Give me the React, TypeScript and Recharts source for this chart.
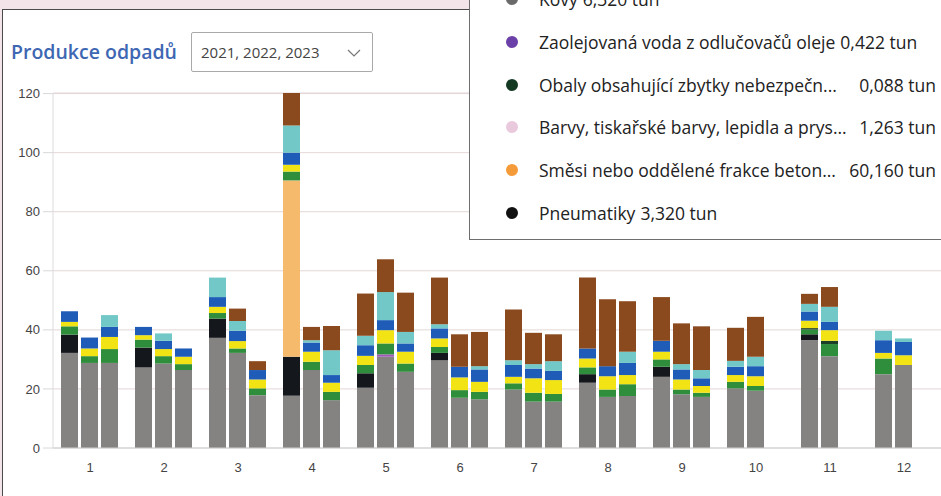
import { BarChart, Bar, XAxis, YAxis, CartesianGrid } from 'recharts';

const months = ['1', '2', '3', '4', '5', '6', '7', '8', '9', '10', '11', '12'];
const years = ['2021', '2022', '2023'];
const yTicks = [0, 20, 40, 60, 80, 100, 120];

// each entry = [2021, 2022, 2023] for one month
const ostatni = [[32.2, 28.8, 28.8], [27.3, 28.6, 26.4], [37.3, 32.2, 17.9], [17.7, 26.4, 16.2], [20.4, 30.9, 25.8], [29.7, 17.0, 16.5], [19.8, 15.7, 15.7], [22.1, 17.3, 17.6], [24.1, 18.2, 17.3], [20.2, 19.4, null], [36.5, 31.1, null], [25.0, 28.1, null]];
const zaolejovana = [[0, 0, 0], [0, 0, 0], [0, 0, 0], [0, 0, 0], [0, 0.8, 0], [0, 0, 0], [0, 0, 0], [0, 0, 0], [0, 0, 0], [0, 0, null], [0, 0, null], [0, 0, null]];
const pneumatiky = [[6.2, 0, 0], [6.7, 0, 0], [6.5, 0, 0], [13.2, 0, 0], [4.9, 0, 0], [2.5, 0, 0], [0, 0, 0], [2.9, 0, 0], [3.4, 0, 0], [0, 0, null], [2.0, 0, null], [0, 0, null]];
const smesi = [[0, 0, 0], [0, 0, 0], [0, 0, 0], [59.7, 0, 0], [0, 0, 0], [0, 0, 0], [0, 0, 0], [0, 0, 0], [0, 0, 0], [0, 0, null], [0, 0, null], [0, 0, null]];
const plasty = [[2.8, 2.3, 4.7], [2.7, 2.5, 2.0], [1.9, 1.5, 2.3], [3.0, 2.8, 2.8], [2.8, 3.7, 2.8], [2.0, 2.6, 2.5], [2.1, 3.0, 2.6], [2.3, 2.5, 4.0], [2.5, 1.6, 1.4], [2.2, 1.6, null], [1.6, 4.1, null], [5.3, 0, null]];
const obaly = [[0, 0, 0], [0, 0, 0], [0, 0, 0], [0, 0, 0], [0, 0, 0], [0, 0, 0], [0, 0, 0], [0, 0, 0], [0, 0, 0], [0, 0, null], [0.5, 1.1, null], [0, 0, null]];
const papir = [[1.5, 2.6, 4.1], [1.5, 2.4, 2.5], [2.1, 2.5, 3.0], [2.3, 3.4, 3.1], [3.1, 4.5, 4.0], [2.9, 4.3, 3.4], [2.2, 4.9, 4.7], [3.0, 4.5, 3.1], [2.6, 3.4, 2.3], [2.3, 3.3, null], [2.5, 3.6, null], [1.9, 3.3, null]];
const sklo = [[3.6, 3.7, 3.4], [2.8, 2.8, 2.8], [3.3, 3.5, 3.2], [4.1, 3.1, 2.6], [3.6, 3.4, 2.8], [3.4, 3.6, 4.2], [4.0, 3.3, 3.1], [3.4, 3.4, 4.1], [3.7, 3.4, 2.6], [2.8, 3.4, null], [3.1, 2.8, null], [4.3, 4.5, null]];
const bio = [[0, 0, 4.0], [0, 2.5, 0], [6.6, 3.3, 0], [9.2, 0.8, 8.4], [3.2, 9.5, 3.9], [1.4, 0, 1.1], [1.6, 1.5, 3.3], [0, 0, 3.8], [0, 1.8, 2.8], [2.0, 3.2, null], [2.6, 5.1, null], [3.2, 1.2, null]];
const drevo = [[0, 0, 0], [0, 0, 0], [0, 4.2, 3.0], [11.0, 4.5, 8.2], [14.3, 11.1, 13.3], [15.8, 11.0, 11.6], [17.2, 10.6, 9.1], [24.0, 22.7, 17.1], [14.8, 13.8, 14.8], [11.2, 13.5, null], [3.4, 6.7, null], [0, 0, null]];

const series = [
  { key: 'ostatni', values: ostatni, color: '#858282' },
  { key: 'zaolejovana', values: zaolejovana, color: '#A05AB8' },
  { key: 'pneumatiky', values: pneumatiky, color: '#14181c' },
  { key: 'smesi', values: smesi, color: '#F6BA6C' },
  { key: 'plasty', values: plasty, color: '#2F8E3C' },
  { key: 'obaly', values: obaly, color: '#1B3F27' },
  { key: 'papir', values: papir, color: '#F2E314' },
  { key: 'sklo', values: sklo, color: '#1F5CB8' },
  { key: 'bio', values: bio, color: '#72C7C7' },
  { key: 'drevo', values: drevo, color: '#8A4A1E' },
];

// tooltip-like legend overlay
const legendLabels = ['Kovy', 'Zaolejovaná voda z odlučovačů oleje', 'Obaly obsahující zbytky nebezpečn...', 'Barvy, tiskařské barvy, lepidla a prys...', 'Směsi nebo oddělené frakce beton...', 'Pneumatiky'];
const legendValues = ['6,320 tun', '0,422 tun', '0,088 tun', '1,263 tun', '60,160 tun', '3,320 tun'];
const legendColors = ['#6a6a6a', '#6B40A8', '#143A24', '#E9CADC', '#F49A38', '#111111'];
const legendTruncated = [false, false, true, true, true, false];

const data = months.map((m, i) => {
  const row: Record<string, string | number | null> = { month: m };
  series.forEach((s) => {
    years.forEach((y, j) => {
      row[`${s.key}_${y}`] = s.values[i][j];
    });
  });
  return row;
});

const font = '"Open Sans", "Noto Sans", sans-serif';
const tickFont = 'Liberation Sans, Arial, sans-serif';

export default function App() {
  return (
    <div style={{ position: 'fixed', left: 0, top: 0, width: 941, height: 496, overflow: 'hidden', background: '#F2E4E8', fontFamily: font }}>
      <div style={{ position: 'absolute', left: 2, top: 9, width: 960, height: 500, background: '#fff', borderLeft: '1.5px solid #4a4a4a', borderTop: '1.5px solid #4a4a4a' }} />
      <div style={{ position: 'absolute', left: 0, top: 0 }}>
        <BarChart width={941} height={496} data={data} margin={{ top: 93, right: 0, left: 0, bottom: 0 }} barCategoryGap={8} barGap={3}>
          <CartesianGrid vertical={false} stroke="#E4D6D6" />
          <XAxis dataKey="month" height={48} axisLine={{ stroke: '#cfcfcf' }} tickLine={false} tickMargin={9} tick={{ fill: '#444', fontSize: 13, fontFamily: tickFont }} />
          <YAxis width={53} domain={[0, 120]} ticks={yTicks} tickSize={10} tickMargin={3} axisLine={{ stroke: '#dcdcdc' }} tickLine={{ stroke: '#d8d8d8' }} tick={{ fill: '#444', fontSize: 13, fontFamily: tickFont }} />
          {series.flatMap((s) =>
            years.map((y) => (
              <Bar key={`${s.key}_${y}`} dataKey={`${s.key}_${y}`} stackId={y} fill={s.color} isAnimationActive={false} />
            ))
          )}
        </BarChart>
      </div>
      <div style={{ position: 'absolute', left: 11, top: 38, fontSize: 19.5, fontWeight: 600, color: '#3E67B3' }}>Produkce odpadů</div>
      <div style={{ position: 'absolute', left: 191, top: 32, width: 182, height: 40, boxSizing: 'border-box', border: '1px solid #a9a9a9', borderRadius: 2, background: '#fff', fontSize: 15, color: '#444', display: 'flex', alignItems: 'center', paddingLeft: 9 }}>
        <span>2021, 2022, 2023</span>
        <svg width="14" height="10" style={{ position: 'absolute', right: 11, top: 15 }}>
          <polyline points="1,2 7,8 13,2" fill="none" stroke="#777" strokeWidth="1.2" />
        </svg>
      </div>
      <div style={{ position: 'absolute', left: 469, top: -22, width: 500, height: 262, boxSizing: 'border-box', background: '#fff', border: '1.5px solid #6e6e6e' }}>
        {legendLabels.map((label, i) => (
          <div key={label} style={{ position: 'absolute', left: 0, top: 20 + i * 42.8 - 13, width: 466, height: 26, display: 'flex', alignItems: 'center', fontSize: 17.5, color: '#222', whiteSpace: 'nowrap' }}>
            <span style={{ display: 'inline-block', width: 12, height: 12, borderRadius: 6, background: legendColors[i], marginLeft: 36, marginRight: 21, flexShrink: 0 }} />
            <span style={{ marginRight: 5 }}>{label}</span>
            {legendTruncated[i] ? (
              <span style={{ position: 'absolute', right: 0 }}>{legendValues[i]}</span>
            ) : (
              <span>{legendValues[i]}</span>
            )}
          </div>
        ))}
      </div>
    </div>
  );
}
